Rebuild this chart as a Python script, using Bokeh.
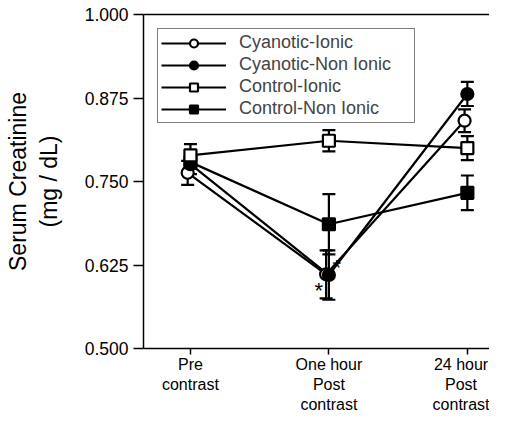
from bokeh.plotting import figure
from bokeh.models import (ColumnDataSource, Whisker, FixedTicker, LinearAxis, Legend,
                          LegendItem, NumeralTickFormatter, Range1d, TeeHead)
from bokeh.embed import file_html
from bokeh.resources import INLINE
from bokeh.transform import dodge
from bokeh.core.properties import value

# ---- data ----
timepoints = [0, 1, 2]
tick_labels = ["Pre\ncontrast", "One hour\nPost\ncontrast", "24 hour\nPost\ncontrast"]
y_ticks = [0.500, 0.625, 0.750, 0.875, 1.000]
series_names = ["Cyanotic-Ionic", "Cyanotic-Non Ionic", "Control-Ionic", "Control-Non Ionic"]
cyan_ionic = [0.763, 0.611, 0.841]
cyan_ionic_se = [0.018, 0.036, 0.017]
cyan_nonionic = [0.776, 0.610, 0.881]
cyan_nonionic_se = [0.015, 0.037, 0.018]
ctrl_ionic = [0.789, 0.811, 0.800]
ctrl_ionic_se = [0.017, 0.016, 0.018]
ctrl_nonionic = [0.779, 0.686, 0.733]
ctrl_nonionic_se = [0.010, 0.045, 0.026]
signif_index = 1  # one hour post contrast (asterisks)

FONT = "Liberation Sans"

p = figure(width=489, height=416, output_backend="svg", toolbar_location=None,
           x_range=Range1d(-0.339, 2.16), y_range=Range1d(0.5, 1.0),
           min_border_left=143, min_border_top=14, min_border_right=0, min_border_bottom=10)
p.xgrid.visible = False
p.ygrid.visible = False
p.outline_line_color = None
p.background_fill_color = "white"
p.border_fill_color = "white"

series = [
    (series_names[0], cyan_ionic, cyan_ionic_se, "circle", "white", -0.02),
    (series_names[1], cyan_nonionic, cyan_nonionic_se, "circle", "black", 0.0),
    (series_names[2], ctrl_ionic, ctrl_ionic_se, "square", "white", 0.0),
    (series_names[3], ctrl_nonionic, ctrl_nonionic_se, "square", "black", 0.0),
]

sources = []
for name, vals, se, marker, fill, dx in series:
    src = ColumnDataSource(dict(x=timepoints, y=vals,
                                upper=[v + e for v, e in zip(vals, se)],
                                lower=[v - e for v, e in zip(vals, se)]))
    sources.append(src)

line_renderers = []
for (name, vals, se, marker, fill, dx), src in zip(series, sources):
    r = p.line(x=dodge("x", dx), y="y", source=src, line_color="black", line_width=2.2)
    line_renderers.append(r)

for (name, vals, se, marker, fill, dx), src in zip(series, sources):
    w = Whisker(base=dodge("x", dx), upper="upper", lower="lower", source=src,
                line_color="black", line_width=2.2,
                upper_head=TeeHead(size=13, line_width=2.2, line_color="black"),
                lower_head=TeeHead(size=13, line_width=2.2, line_color="black"))
    p.add_layout(w)

marker_renderers = {}
for name, src, s in [(series_names[0], sources[0], series[0]),
                     (series_names[1], sources[1], series[1]),
                     (series_names[3], sources[3], series[3]),
                     (series_names[2], sources[2], series[2])]:
    _, vals, se, marker, fill, dx = s
    r = p.scatter(x=dodge("x", dx), y="y", source=src, marker=marker, size=12,
                  fill_color=fill, line_color="black", line_width=2.2)
    marker_renderers[name] = r

# asterisks
ast_src = ColumnDataSource(dict(x=[timepoints[signif_index]] * 2,
                                y=[cyan_nonionic[signif_index], cyan_ionic[signif_index]],
                                t=["*", "*"], xo=[8, -10], yo=[-8, 16]))
p.text(x="x", y="y", text="t", x_offset="xo", y_offset="yo", source=ast_src,
       text_font=value(FONT), text_font_size="22px", text_align="center",
       text_baseline="middle", text_color="black")

# legend
items = []
for i, (name, vals, se, marker, fill, dx) in enumerate(series):
    items.append(LegendItem(label=name, renderers=[line_renderers[i], marker_renderers[name]]))
legend = Legend(items=items, location="top_left", margin=14, padding=3, spacing=1,
                glyph_width=65, glyph_height=20, label_height=20, label_width=172,
                label_text_font=FONT, label_text_font_size="18px", label_standoff=13,
                border_line_color="black", border_line_width=1.5,
                background_fill_alpha=1.0, background_fill_color="white")
p.add_layout(legend)

# axes
p.xaxis.ticker = FixedTicker(ticks=timepoints)
p.xaxis.major_label_overrides = {t: lab for t, lab in zip(timepoints, tick_labels)}
p.yaxis.ticker = FixedTicker(ticks=y_ticks)
p.yaxis.formatter = NumeralTickFormatter(format="0.000")
for ax in [p.xaxis[0], p.yaxis[0]]:
    ax.axis_line_width = 1.5
    ax.axis_line_color = "black"
    ax.major_tick_line_color = "black"
    ax.major_tick_line_width = 1.5
    ax.major_tick_in = 0
    ax.minor_tick_line_color = None
    ax.major_label_text_font = FONT
    ax.major_label_text_color = "black"
p.xaxis.major_label_text_font_size = "16px"
p.yaxis.major_label_text_font_size = "17.5px"
p.xaxis.major_tick_out = 6
p.xaxis.major_label_standoff = 1
p.yaxis.major_tick_out = 10
p.yaxis.major_label_standoff = 5
p.yaxis.axis_label = "Serum Creatinine\n(mg / dL)"
p.yaxis.axis_label_text_font = FONT
p.yaxis.axis_label_text_font_size = "23px"
p.yaxis.axis_label_text_font_style = "normal"
p.yaxis.axis_label_text_color = "black"
p.yaxis.axis_label_standoff = 20

top = LinearAxis(ticker=FixedTicker(ticks=[]), major_label_text_font_size="0px",
                 axis_line_width=1.5, axis_line_color="black",
                 major_tick_line_color=None, minor_tick_line_color=None)
p.add_layout(top, "above")

open("out.html", "w").write(file_html(p, INLINE))
